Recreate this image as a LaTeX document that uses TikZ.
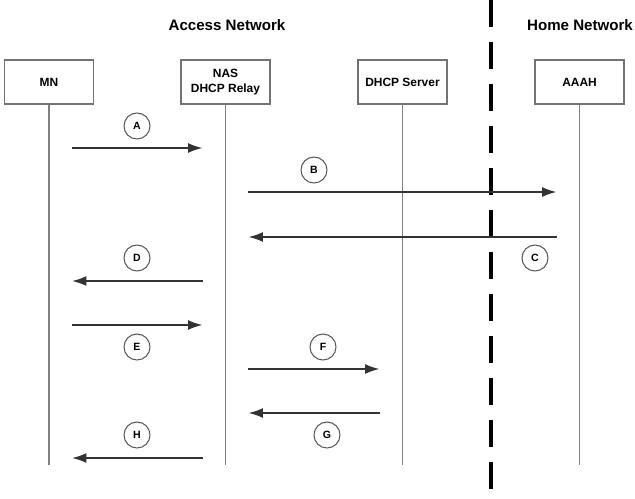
\documentclass[tikz,border=0pt]{standalone}
\usepackage{fontspec}
\setmainfont{Liberation Sans}
\usetikzlibrary{arrows.meta}
\tikzset{
  ent/.style={draw=black!55,line width=0.9pt,minimum width=1.78cm,minimum height=0.88cm,
    inner sep=1pt,align=center,font=\fontsize{6.8}{8.5}\selectfont\bfseries},
  life/.style={draw=black!50,line width=0.9pt},
  msg/.style={draw=black!80,line width=1pt,-{Latex[length=0.29cm,width=0.2cm]},
    shorten <=0.46cm,shorten >=0.46cm},
  tag/.style={circle,draw=black!65,line width=0.6pt,minimum size=0.52cm,inner sep=0pt,
    font=\fontsize{6}{7}\selectfont\bfseries},
  zone/.style={font=\fontsize{8.6}{10}\selectfont\bfseries},
  border/.style={draw=black,line width=2.1pt,dash pattern=on 0.54cm off 0.3cm}
}
\begin{document}
\begin{tikzpicture}[x=0.02cm,y=-0.02cm]
\useasboundingbox (0,0) rectangle (635,498);
% network labels and the border between them
\node[zone] (acc) at (227,25) {Access Network};
\node[zone] (home) at (580,25) {Home Network};
\coordinate (top) at (491,0);
\coordinate (bot) at (491,498);
\draw[border] (top) -- (bot);
% entities and lifelines
\node[ent] (mn) at (49,82) {MN};
\node[ent] (nas) at (225.5,82) {NAS\\DHCP Relay};
\node[ent] (dhcp) at (402.5,82) {DHCP Server};
\node[ent] (aaah) at (579.5,82) {AAAH};
\foreach \e in {mn,nas,dhcp,aaah}
  \draw[life] (\e.south) -- (\e |- 0,465);
% messages
\draw[msg] (mn |- 0,148) -- (nas |- 0,148);
\draw[msg] (nas |- 0,192) -- (aaah |- 0,192);
\draw[msg] (aaah |- 0,237) -- (nas |- 0,237);
\draw[msg] (nas |- 0,281) -- (mn |- 0,281);
\draw[msg] (mn |- 0,325) -- (nas |- 0,325);
\draw[msg] (nas |- 0,369) -- (dhcp |- 0,369);
\draw[msg] (dhcp |- 0,413) -- (nas |- 0,413);
\draw[msg] (nas |- 0,458) -- (mn |- 0,458);
% step labels
\node[tag] (ta) at (137,126) {A};
\node[tag] (tb) at (314,170) {B};
\node[tag] (tc) at (535,258) {C};
\node[tag] (td) at (137,258) {D};
\node[tag] (te) at (137,347) {E};
\node[tag] (tf) at (323,347) {F};
\node[tag] (tg) at (327,435) {G};
\node[tag] (th) at (137,435) {H};
\end{tikzpicture}
\end{document}
